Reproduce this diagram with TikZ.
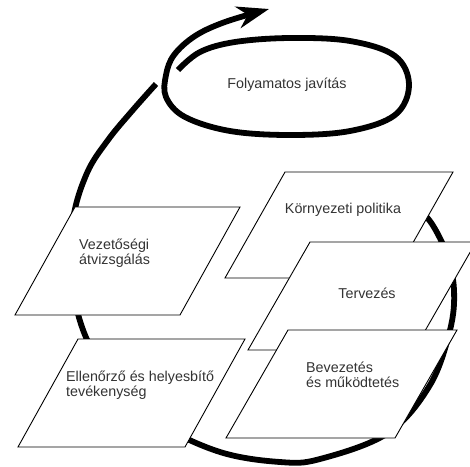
\documentclass[tikz,border=0pt]{standalone}
\usepackage{fontspec}
\setmainfont{Liberation Sans}
\usepackage{tikz}
\usetikzlibrary{arrows.meta,positioning}
\tikzstyle{lap}=[draw=black, fill=white, line width=0.9pt]
\tikzstyle{spiral}=[line width=5.8pt, black]
\tikzstyle{felirat}=[font=\fontsize{14.3}{15.5}\selectfont, text=black!80, inner sep=0pt, align=left]

\begin{document}
\begin{tikzpicture}[x=1pt,y=-1pt]
\useasboundingbox (0,0) rectangle (470,466);

% nagy kor
\draw[spiral] plot[smooth, tension=0.6] coordinates {(415,205) (432,224) (447,255) (454,290) (450,330) (430,385) (388,433) (320,459) (280,462) (220,452) (160,424) (115,385) (85,335) (72,280) (73,220) (87,173) (108,140) (132,111) (156,84)};

% folyamatos javitas
\draw[spiral, -{Stealth[length=32pt, width=22pt, inset=10pt]}] plot[smooth, tension=0.6] coordinates {(178,70) (200,52) (235,42) (290,38) (350,41) (395,56) (409,85) (395,115) (350,131) (290,135) (230,131) (185,117) (166,97) (166,75) (174,55) (195,36) (225,22) (269,9)};
\node[felirat] (javitas) at (287,85) {Folyamatos javítás};

% lapok
\draw[lap] (285,172) -- ++(168,0) -- ++(-60,106) -- ++(-168,0) -- cycle;
\node[felirat] (politika) at (343,210) {Környezeti politika};

\draw[lap] (310,242) -- ++(166,0) -- ++(-62,108) -- ++(-166,0) -- cycle;
\node[felirat] (tervezes) at (367,293) {Tervezés};

\draw[lap] (288,330) -- ++(169,0) -- ++(-62,108) -- ++(-169,0) -- cycle;
\node[felirat, anchor=west] (bevezetes) at (306,375) {Bevezetés\\és működtetés};

\draw[lap] (75,207) -- ++(165,0) -- ++(-60,108) -- ++(-165,0) -- cycle;
\node[felirat, anchor=west] (atvizsgalas) at (79,253) {Vezetőségi\\átvizsgálás};

\draw[lap] (78,339) -- ++(167,0) -- ++(-60,108) -- ++(-167,0) -- cycle;
\node[felirat, anchor=west] (ellenorzo) at (66,385) {Ellenőrző és helyesbítő\\tevékenység};

\end{tikzpicture}
\end{document}
